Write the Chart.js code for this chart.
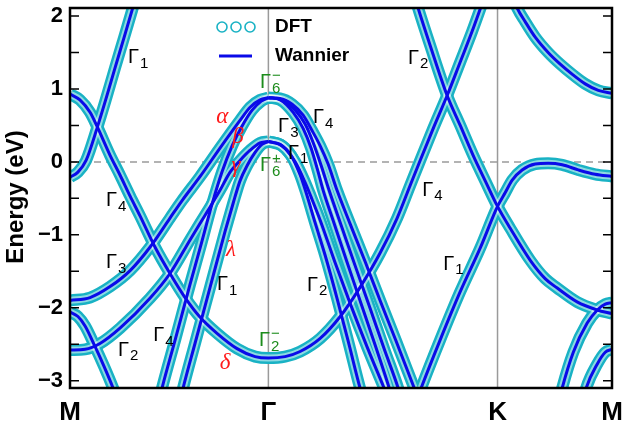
<!DOCTYPE html>
<html>
<head>
<meta charset="utf-8">
<script src="https://cdn.jsdelivr.net/npm/chart.js@4.4.1/dist/chart.umd.min.js"></script>
<style>
  html, body { margin: 0; padding: 0; background: #fff; }
</style>
</head>
<body>
<canvas id="bands" width="623" height="425"></canvas>
<script>
// k-path M - Γ - K - M, distances in units of |ΓM|
var kPath = [0, 1, 2.155, 2.732];
var kLabels = ['M', 'Γ', 'K', 'M'];
var yTicks = [-3, -2, -1, 0, 1, 2];
var yTickMarks = [-3, -2.5, -2, -1.5, -1, -0.5, 0, 0.5, 1, 1.5, 2];

// bands (k, energy in eV)
var kSteep = [0, 0.040, 0.081, 0.136, 0.182, 0.227, 0.272, 0.313, 0.333];
var eSteep = [-0.21, -0.14, 0.02, 0.46, 0.87, 1.29, 1.70, 2.08, 2.27];

var kDelta = [0, 0.050, 0.101, 0.136, 0.202, 0.252, 0.303, 0.353, 0.429, 0.504, 0.580, 0.656, 0.741, 0.842, 0.933, 1.0,
              1.084, 1.160, 1.261, 1.362, 1.462, 1.563, 1.649, 1.715, 1.765, 1.831, 1.901, 1.967, 2.027, 2.088];
var eDelta = [0.93, 0.85, 0.68, 0.49, 0.09, -0.18, -0.47, -0.74, -1.17, -1.53, -1.86, -2.13, -2.35, -2.56, -2.67, -2.69,
              -2.67, -2.60, -2.42, -2.12, -1.72, -1.25, -0.77, -0.32, 0.02, 0.46, 0.91, 1.37, 1.79, 2.25];

var kAlpha = [0, 0.101, 0.202, 0.303, 0.403, 0.504, 0.565, 0.656, 0.756, 0.857, 0.908, 0.958, 1.0];
var eAlpha = [-1.90, -1.86, -1.71, -1.49, -1.17, -0.77, -0.53, -0.20, 0.19, 0.57, 0.75, 0.85, 0.88];

var kBeta = [0.449, 0.464, 0.530, 0.605, 0.656, 0.716, 0.766, 0.817, 0.867, 0.918, 0.963, 1.0];
var eBeta = [-3.27, -3.10, -2.44, -1.68, -1.18, -0.58, -0.14, 0.22, 0.49, 0.71, 0.83, 0.88];

var kGamma = [0, 0.076, 0.151, 0.252, 0.403, 0.504, 0.605, 0.656, 0.706, 0.756, 0.807, 0.857, 0.908, 0.958, 1.0];
var eGamma = [-2.58, -2.57, -2.49, -2.28, -1.87, -1.53, -1.07, -0.84, -0.62, -0.39, -0.14, 0.02, 0.16, 0.26, 0.28];

var kLambda = [0.555, 0.570, 0.630, 0.706, 0.782, 0.822, 0.857, 0.893, 0.933, 0.968, 1.0];
var eLambda = [-3.27, -3.10, -2.49, -1.72, -0.95, -0.57, -0.26, -0.05, 0.13, 0.24, 0.28];

var kLowM = [0, 0.040, 0.076, 0.126, 0.171, 0.217, 0.232];
var eLowM = [-2.06, -2.12, -2.25, -2.53, -2.80, -3.10, -3.21];

// Γ-K bundle leaving the two Γ6 domes
var kGK1 = [1.0, 1.059, 1.114, 1.160, 1.190, 1.235, 1.286, 1.346, 1.407, 1.462, 1.478];
var eGK1 = [0.28, 0.24, 0.09, -0.18, -0.42, -0.83, -1.28, -1.87, -2.51, -3.10, -3.24];

var kGK2 = [1.0, 1.069, 1.135, 1.185, 1.215, 1.261, 1.336, 1.412, 1.498, 1.583, 1.604];
var eGK2 = [0.28, 0.22, 0.00, -0.28, -0.48, -0.80, -1.38, -1.94, -2.54, -3.10, -3.24];

var kGK3 = [1.0, 1.059, 1.125, 1.175, 1.215, 1.251, 1.276, 1.326, 1.397, 1.467, 1.538, 1.609, 1.624];
var eGK3 = [0.88, 0.85, 0.68, 0.46, 0.19, -0.14, -0.39, -0.80, -1.38, -1.94, -2.51, -3.10, -3.24];

var kGK4 = [1.0, 1.069, 1.135, 1.185, 1.225, 1.266, 1.306, 1.372, 1.442, 1.513, 1.583, 1.654, 1.669];
var eGK4 = [0.88, 0.85, 0.71, 0.52, 0.27, -0.05, -0.39, -0.91, -1.46, -2.01, -2.56, -3.10, -3.24];

var kGK5 = [1.0, 1.059, 1.120, 1.175, 1.220, 1.261, 1.301, 1.346, 1.412, 1.488, 1.563, 1.644, 1.735, 1.755];
var eGK5 = [0.88, 0.87, 0.79, 0.64, 0.43, 0.22, -0.03, -0.39, -0.85, -1.37, -1.90, -2.46, -3.10, -3.24];

var kDownK = [1.735, 1.750, 1.815, 1.901, 1.967, 2.032, 2.093, 2.155, 2.219, 2.320, 2.395, 2.456, 2.556, 2.657, 2.732];
var eDownK = [2.29, 2.15, 1.60, 0.91, 0.50, 0.09, -0.26, -0.61, -0.91, -1.35, -1.60, -1.73, -1.92, -2.03, -2.08];

var kUpK = [1.755, 1.770, 1.866, 1.967, 2.068, 2.155, 2.194, 2.229, 2.279, 2.345, 2.410, 2.481, 2.562, 2.647, 2.732];
var eUpK = [-3.21, -3.10, -2.44, -1.78, -1.18, -0.61, -0.42, -0.25, -0.11, -0.03, -0.02, -0.04, -0.11, -0.17, -0.20];

var kTopR = [2.234, 2.254, 2.295, 2.345, 2.410, 2.471, 2.537, 2.597, 2.663, 2.732];
var eTopR = [2.25, 2.11, 1.92, 1.71, 1.50, 1.34, 1.19, 1.07, 0.98, 0.94];

var kLowR1 = [2.466, 2.481, 2.537, 2.607, 2.658, 2.698, 2.732];
var eLowR1 = [-3.27, -3.10, -2.61, -2.21, -2.03, -1.95, -1.93];

var kLowR2 = [2.587, 2.602, 2.658, 2.698, 2.732];
var eLowR2 = [-3.27, -3.10, -2.77, -2.61, -2.57];

var bands = [
  [kSteep, eSteep], [kDelta, eDelta], [kAlpha, eAlpha], [kBeta, eBeta], [kGamma, eGamma],
  [kLambda, eLambda], [kLowM, eLowM], [kGK1, eGK1], [kGK2, eGK2], [kGK3, eGK3], [kGK4, eGK4],
  [kGK5, eGK5], [kDownK, eDownK], [kUpK, eUpK], [kTopR, eTopR], [kLowR1, eLowR1], [kLowR2, eLowR2]
];

// symmetry labels: text, subscript, superscript, colour, k, E
var irrepLabels = [
  ['Γ', '1', '', '#000', 0.292, 1.43],
  ['Γ', '6', '−', '#1c8c1c', 0.958, 1.09],
  ['Γ', '6', '+', '#1c8c1c', 0.958, -0.05],
  ['Γ', '3', '', '#000', 1.049, 0.48],
  ['Γ', '4', '', '#000', 1.225, 0.61],
  ['Γ', '1', '', '#000', 1.099, 0.12],
  ['Γ', '4', '', '#000', 0.182, -0.53],
  ['Γ', '3', '', '#000', 0.182, -1.38],
  ['Γ', '2', '', '#000', 0.242, -2.58],
  ['Γ', '4', '', '#000', 0.419, -2.38],
  ['Γ', '1', '', '#000', 0.741, -1.68],
  ['Γ', '2', '−', '#1c8c1c', 0.953, -2.45],
  ['Γ', '2', '', '#000', 1.195, -1.69],
  ['Γ', '2', '', '#000', 1.704, 1.42],
  ['Γ', '4', '', '#000', 1.775, -0.39],
  ['Γ', '1', '', '#000', 1.881, -1.40]
];
var greekLabels = [
  ['α', 0.767, 0.61], ['β', 0.847, 0.34], ['γ', 0.837, -0.06],
  ['λ', 0.812, -1.21], ['δ', 0.782, -2.76]
];

var dftColor = '#19b2c4';
var wannierColor = '#0a0ae8';

var datasets = [];
bands.forEach(function(b) {
  var pts = b[0].map(function(k, i) { return { x: k, y: b[1][i] }; });
  var common = { data: pts, showLine: true, pointRadius: 0, fill: false, clip: 0,
                 cubicInterpolationMode: 'monotone' };
  // DFT tube, its lighter inside, then the Wannier line on top
  datasets.push(Object.assign({ borderColor: dftColor, borderWidth: 12, order: 2 }, common));
  datasets.push(Object.assign({ borderColor: 'rgba(255,255,255,0.5)', borderWidth: 7, order: 1 }, common));
  datasets.push(Object.assign({ borderColor: wannierColor, borderWidth: 3, order: 0 }, common));
});

var decor = {
  id: 'decor',
  beforeDatasetsDraw: function(chart) {
    var c = chart.ctx, a = chart.chartArea, x = chart.scales.x, y = chart.scales.y;
    c.save();
    c.strokeStyle = '#9a9a9a';
    c.lineWidth = 1.5;
    [kPath[1], kPath[2]].forEach(function(k) {
      var px = x.getPixelForValue(k);
      c.beginPath(); c.moveTo(px, a.top); c.lineTo(px, a.bottom); c.stroke();
    });
    // Fermi level
    var y0 = y.getPixelForValue(0);
    c.setLineDash([7, 5]);
    c.beginPath(); c.moveTo(a.left, y0); c.lineTo(a.right, y0); c.stroke();
    c.restore();
  },
  afterDatasetsDraw: function(chart) {
    var c = chart.ctx, a = chart.chartArea, y = chart.scales.y;
    c.save();
    c.strokeStyle = '#000';
    c.lineWidth = 1.5;
    yTickMarks.forEach(function(v) {
      var py = y.getPixelForValue(v);
      c.beginPath();
      c.moveTo(a.left, py); c.lineTo(a.left + 9, py);
      c.moveTo(a.right, py); c.lineTo(a.right - 9, py);
      c.stroke();
    });
    c.lineWidth = 2.5;
    c.strokeRect(a.left, a.top, a.right - a.left, a.bottom - a.top);
    c.restore();
  },
  afterDraw: function(chart) {
    var c = chart.ctx, x = chart.scales.x, y = chart.scales.y;
    c.save();
    c.textBaseline = 'middle';
    irrepLabels.forEach(function(l) {
      var px = x.getPixelForValue(l[4]), py = y.getPixelForValue(l[5]);
      c.fillStyle = l[3];
      c.textAlign = 'left';
      c.font = '20px "Liberation Sans", Arial, sans-serif';
      c.fillText(l[0], px, py);
      var w = c.measureText(l[0]).width;
      c.font = '15px "Liberation Sans", Arial, sans-serif';
      c.fillText(l[1], px + w + 1, py + 6);
      if (l[2]) c.fillText(l[2], px + w + 1, py - 7);
    });
    c.fillStyle = '#ff1a1a';
    c.textAlign = 'center';
    c.font = 'italic 23px "Liberation Serif", "Times New Roman", serif';
    greekLabels.forEach(function(l) {
      c.fillText(l[0], x.getPixelForValue(l[1]), y.getPixelForValue(l[2]));
    });

    // legend
    c.strokeStyle = dftColor;
    c.lineWidth = 1.6;
    [222, 236, 250].forEach(function(cx) {
      c.beginPath(); c.arc(cx, 27, 5, 0, Math.PI * 2); c.stroke();
    });
    c.strokeStyle = wannierColor;
    c.lineWidth = 3;
    c.beginPath(); c.moveTo(219, 56); c.lineTo(252, 56); c.stroke();
    c.fillStyle = '#000';
    c.textAlign = 'left';
    c.font = 'bold 19px "Liberation Sans", Arial, sans-serif';
    c.fillText('DFT', 275, 27);
    c.fillText('Wannier', 275, 56);

    // axis title
    c.translate(16, 197);
    c.rotate(-Math.PI / 2);
    c.textAlign = 'center';
    c.font = 'bold 24px "Liberation Sans", Arial, sans-serif';
    c.fillText('Energy (eV)', 0, 0);
    c.restore();
  }
};

new Chart(document.getElementById('bands').getContext('2d'), {
  type: 'scatter',
  data: { datasets: datasets },
  options: {
    responsive: false,
    animation: false,
    devicePixelRatio: 1,
    layout: { padding: { left: 0, right: 11, top: 8, bottom: 0 } },
    plugins: { legend: { display: false }, tooltip: { enabled: false } },
    scales: {
      x: {
        type: 'linear', min: kPath[0], max: kPath[3],
        grid: { display: false, drawTicks: false }, border: { display: false },
        afterBuildTicks: function(s) { s.ticks = kPath.map(function(v) { return { value: v }; }); },
        afterFit: function(s) { s.height = 37; s.paddingLeft = 0; s.paddingRight = 0; },
        ticks: {
          autoSkip: false, maxRotation: 0, padding: 9, color: '#000',
          font: { family: '"Liberation Sans", Arial, sans-serif', size: 26, weight: 'bold' },
          callback: function(v, i) { return kLabels[i]; }
        }
      },
      y: {
        min: -3.1, max: 2.11,
        grid: { display: false, drawTicks: false }, border: { display: false },
        afterBuildTicks: function(s) { s.ticks = yTicks.map(function(v) { return { value: v }; }); },
        afterFit: function(s) { s.width = 70; s.paddingTop = 0; s.paddingBottom = 0; },
        ticks: {
          padding: 7, color: '#000',
          font: { family: '"Liberation Sans", Arial, sans-serif', size: 22, weight: 'bold' },
          callback: function(v) { return v < 0 ? '−' + Math.abs(v) : String(v); }
        }
      }
    }
  },
  plugins: [decor]
});
</script>
</body>
</html>
